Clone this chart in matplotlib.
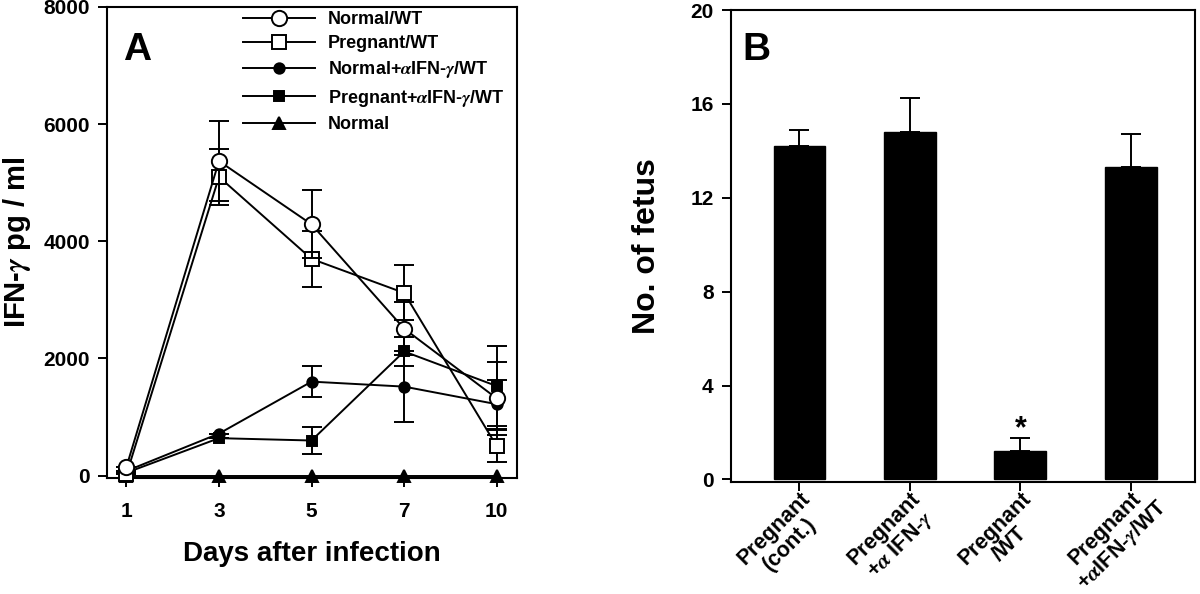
import numpy as np
import matplotlib
matplotlib.use("Agg")
import matplotlib.pyplot as plt
from matplotlib.lines import Line2D
from matplotlib.transforms import ScaledTranslation

plt.rcParams['font.family'] = ['Liberation Sans', 'DejaVu Sans']
plt.rcParams['font.weight'] = 'bold'
plt.rcParams['mathtext.fontset'] = 'stix'

# ---------------- data: panel A ----------------
days = ["1", "3", "5", "7", "10"]
normal_wt = [150, 5370, 4290, 2510, 1320]
normal_wt_err = [0, 690, 580, 450, 620]
pregnant_wt = [20, 5100, 3700, 3120, 506]
pregnant_wt_err = [0, 480, 480, 470, 280]
normal_anti = [80, 718, 1605, 1520, 1220]
normal_anti_err = [0, 0, 260, 600, 420]
pregnant_anti = [50, 640, 600, 2120, 1530]
pregnant_anti_err = [0, 0, 230, 240, 680]
normal_only = [0, 0, 0, 0, 0]

series_labels = ["Normal/WT", "Pregnant/WT",
                 r"Normal+$\alpha$IFN-$\gamma$/WT",
                 r"Pregnant+$\alpha$IFN-$\gamma$/WT", "Normal"]

# ---------------- data: panel B ----------------
groups = ["Pregnant\n(cont.)", "Pregnant\n" + r"+$\alpha$ IFN-$\gamma$",
          "Pregnant\n/WT", "Pregnant\n" + r"+$\alpha$IFN-$\gamma$/WT"]
fetus = [14.2, 14.8, 1.2, 13.3]
fetus_err = [0.7, 1.45, 0.55, 1.4]

fig = plt.figure(figsize=(12, 5.94), dpi=100)
axA = fig.add_axes([107/1200, 1-478/594, 410/1200, 471/594])
axB = fig.add_axes([731/1200, 1-482/594, 464/1200, 472/594])

lw = 1.4
xs = np.arange(len(days))

styles = [  # (marker, size, face) for each series in legend order
    ('o', 11, 'white'),
    ('s', 10, 'white'),
    ('o', 7.5, 'black'),
    ('s', 7.5, 'black'),
    ('^', 9, 'black'),
]
values = [normal_wt, pregnant_wt, normal_anti, pregnant_anti, normal_only]
errors = [normal_wt_err, pregnant_wt_err, normal_anti_err, pregnant_anti_err, None]
zorders = [7, 6, 5, 4, 3]

handles = []
for (mk, ms, fc), y, e, z, lab in zip(styles, values, errors, zorders, series_labels):
    axA.errorbar(xs, y, yerr=e, color='black', lw=lw, elinewidth=lw,
                 capsize=7, capthick=lw, marker=mk, ms=ms,
                 mfc=fc, mec='black', mew=lw, zorder=z, clip_on=False)
    handles.append(Line2D([], [], color='black', lw=lw, marker=mk, ms=ms,
                          mfc=fc, mec='black', mew=lw))

axA.set_xlim(-0.21, 4.22)
axA.set_ylim(-40, 8000)
axA.set_xticks(xs)
axA.set_xticklabels(days)
axA.set_yticks([0, 2000, 4000, 6000, 8000])
axA.set_xlabel("Days after infection", fontsize=20, fontweight='bold', labelpad=14)
axA.set_ylabel(r"IFN-$\gamma$ pg / ml", fontsize=21, fontweight='bold', labelpad=7)
axA.text(0.04, 0.887, "A", transform=axA.transAxes, fontsize=28,
         fontweight='bold', va='baseline', ha='left')

leg = axA.legend(handles, series_labels,
                 loc='upper left', bbox_to_anchor=(243/1200, 1-11/594),
                 bbox_transform=fig.transFigure, frameon=False,
                 fontsize=13, handlelength=4.0, handletextpad=0.7,
                 labelspacing=0.4, borderpad=0, borderaxespad=0,
                 numpoints=1)
for t in leg.get_texts():
    t.set_fontweight('bold')

# ---------------- panel B ----------------
pos = np.arange(len(groups))
axB.bar(pos, fetus, width=0.47, color='black', edgecolor='black', zorder=2)
axB.errorbar(pos, fetus, yerr=[np.zeros(len(fetus)), fetus_err], fmt='none',
             ecolor='black', elinewidth=lw, capsize=7, capthick=lw, zorder=3)
axB.text(pos[2], fetus[2] + fetus_err[2] + 0.4, "*", ha='center', va='center',
         fontsize=22, fontweight='bold')
axB.set_xlim(-0.62, 3.58)
axB.set_ylim(-0.11, 20)
axB.set_yticks([0, 4, 8, 12, 16, 20])
axB.set_xticks(pos)
axB.set_xticklabels([])
axB.tick_params(axis='x', length=0)
axB.set_ylabel("No. of fetus", fontsize=23, fontweight='bold', labelpad=20)
axB.text(0.024, 0.894, "B", transform=axB.transAxes, fontsize=28,
         fontweight='bold', va='baseline', ha='left')

off = ScaledTranslation(-0.33, -0.39, fig.dpi_scale_trans)
for p, g in zip(pos, groups):
    axB.text(p, 0, g, transform=axB.get_xaxis_transform() + off,
             rotation=45, rotation_mode='anchor', ha='center', va='top',
             multialignment='center', fontsize=15.5, fontweight='bold',
             linespacing=1.05)

for ax in (axA, axB):
    for s in ax.spines.values():
        s.set_linewidth(1.5)
    ax.tick_params(axis='both', direction='out', length=6.5, width=1.4,
                   labelsize=15, pad=6)
    for t in ax.get_xticklabels() + ax.get_yticklabels():
        t.set_fontweight('bold')
axA.tick_params(axis='x', pad=11)

fig.savefig("out.png", dpi=100)
